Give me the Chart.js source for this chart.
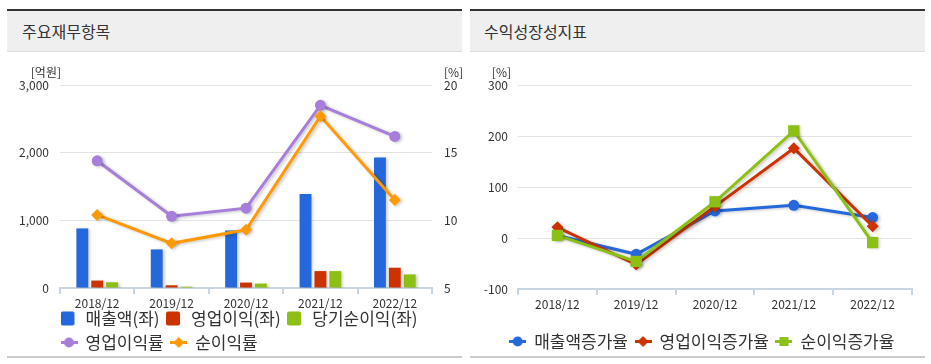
<!DOCTYPE html>
<html>
<head>
<meta charset="utf-8">
<script src="https://cdn.jsdelivr.net/npm/chart.js@4.4.1/dist/chart.umd.min.js"></script>
<style>
body { margin: 0; background: #fff; font-family: 'Malgun Gothic', 'Noto Sans CJK KR', sans-serif; }
.panel { position: absolute; top: 9px; width: 455px; height: 345px; border-top: 2px solid #333; border-bottom: 2px solid #ccc; }
.head { height: 40px; line-height: 40px; background: #efefef; border-bottom: 1px solid #ddd; font-size: 16px; color: #333; padding-left: 15px; }
.box { position: relative; height: 304px; }
</style>
</head>
<body>
<div class="panel" style="left:7px">
  <div class="head">주요재무항목</div>
  <div class="box"><canvas id="finChart"></canvas></div>
</div>
<div class="panel" style="left:470px">
  <div class="head" style="padding-left:14px">수익성장성지표</div>
  <div class="box"><canvas id="growthChart"></canvas></div>
</div>
<script>
// data
let years = ["2018/12", "2019/12", "2020/12", "2021/12", "2022/12"];
let sales = [880, 570, 850, 1390, 1930];
let opProfit = [110, 40, 80, 250, 300];
let netProfit = [85, 20, 65, 250, 200];
let opMargin = [14.4, 10.3, 10.9, 18.5, 16.2];
let netMargin = [10.4, 8.3, 9.3, 17.7, 11.5];
let salesGrowth = [5, -32, 53, 64, 40];
let opGrowth = [21, -52, 62, 176, 23];
let netGrowth = [5, -46, 71, 210, -9];

let blue = "#2468db", red = "#cc3300", green = "#8cc014", purple = "#a77fdb", orange = "#ff9a05";
let axisColor = "#c8d5e3", gridColor = "#e3e3e3", textColor = "#333";

Chart.defaults.font.family = "'Malgun Gothic', 'Noto Sans CJK KR', sans-serif";
Chart.defaults.font.size = 12;
Chart.defaults.color = textColor;

// small legend symbols
function symbol(kind, color) {
    let c = document.createElement("canvas");
    c.width = 17; c.height = 15;
    let g = c.getContext("2d");
    g.fillStyle = color; g.strokeStyle = color;
    if (kind == "box") {
        g.beginPath();
        g.roundRect(0, 0.5, 14, 14, 2);
        g.fill();
        return c;
    }
    g.lineWidth = 3;
    g.beginPath(); g.moveTo(0, 7.5); g.lineTo(17, 7.5); g.stroke();
    g.beginPath();
    if (kind == "circle") g.arc(8.5, 7.5, 5, 0, Math.PI * 2);
    if (kind == "diamond") { g.moveTo(8.5, 2); g.lineTo(14, 7.5); g.lineTo(8.5, 13); g.lineTo(3, 7.5); g.closePath(); }
    if (kind == "square") g.rect(4, 3, 9, 9);
    g.fill();
    return c;
}

function legendItems(symbols) {
    return function (chart) {
        return chart.data.datasets.map((ds, i) => ({
            text: ds.label,
            pointStyle: symbols[i],
            fillStyle: ds.backgroundColor,
            strokeStyle: ds.borderColor,
            lineWidth: 0,
            fontColor: textColor,
            hidden: !chart.isDatasetVisible(i),
            datasetIndex: i
        }));
    };
}

function hideBottomGrid(ctx) {
    return ctx.index === 0 ? "rgba(0,0,0,0)" : gridColor;
}

let shadow = {
    id: "shadow",
    beforeDatasetsDraw(chart) {
        let c = chart.ctx;
        c.save();
        c.shadowColor = "rgba(0,0,0,0.22)";
        c.shadowBlur = 3;
        c.shadowOffsetX = 2;
        c.shadowOffsetY = 1;
    },
    afterDatasetsDraw(chart) { chart.ctx.restore(); }
};

let units = {
    id: "units",
    afterDraw(chart, args, opts) {
        let c = chart.ctx, a = chart.chartArea;
        c.save();
        c.font = "12px " + Chart.defaults.font.family;
        c.fillStyle = textColor;
        c.textBaseline = "middle";
        opts.items.forEach(u => {
            c.textAlign = u.align;
            c.fillText(u.text, u.side == "left" ? a.left + u.dx : a.right + u.dx, a.top - 13);
        });
        c.restore();
    }
};

// nudge the legend box; keep its bottom at the canvas edge so nothing is clipped
let legendShift = {
    id: "legendShift",
    afterLayout(chart, args, opts) {
        let lg = chart.legend;
        lg.left += opts.x; lg.right += opts.x;
        lg.top += opts.y; lg.bottom = chart.height;
    }
};

let xAxis = (h) => ({
    offset: true,
    grid: { offset: true, drawOnChartArea: false, color: axisColor, lineWidth: 2, tickLength: 6 },
    border: { color: axisColor, width: 2 },
    ticks: { padding: 2, color: textColor },
    afterFit: s => { s.height = h; }
});

let legendLabels = (symbols) => ({
    usePointStyle: true, pointStyleWidth: 16, padding: 7,
    font: { size: 17 }, color: textColor,
    generateLabels: legendItems(symbols)
});

let finChart = new Chart(document.getElementById("finChart").getContext("2d"), {
    type: "bar",
    data: {
        labels: years,
        datasets: [
            { label: "매출액(좌)", data: sales, backgroundColor: blue, order: 2, yAxisID: "y" },
            { label: "영업이익(좌)", data: opProfit, backgroundColor: red, order: 2, yAxisID: "y" },
            { label: "당기순이익(좌)", data: netProfit, backgroundColor: green, order: 2, yAxisID: "y" },
            { type: "line", label: "영업이익률", data: opMargin, borderColor: purple, backgroundColor: purple,
              borderWidth: 3, pointStyle: "circle", pointRadius: 5.5, pointBorderWidth: 0, order: 1, yAxisID: "y1" },
            { type: "line", label: "순이익률", data: netMargin, borderColor: orange, backgroundColor: orange,
              borderWidth: 3, pointStyle: "rectRot", pointRadius: 6, pointBorderWidth: 0, order: 0, yAxisID: "y1" }
        ]
    },
    options: {
        responsive: true,
        maintainAspectRatio: false,
        animation: false,
        categoryPercentage: 0.6,
        barPercentage: 0.8,
        layout: { padding: { top: 33, left: 0, right: 0, bottom: 0 } },
        scales: {
            x: xAxis(24),
            y: {
                position: "left", min: 0, max: 3000,
                ticks: { stepSize: 1000, padding: 11 },
                grid: { color: hideBottomGrid, drawTicks: false },
                border: { display: false },
                afterFit: s => { s.width = 53; }
            },
            y1: {
                position: "right", min: 5, max: 20,
                ticks: { stepSize: 5, padding: 12 },
                grid: { drawOnChartArea: false, drawTicks: false },
                border: { display: false },
                afterFit: s => { s.width = 30; }
            }
        },
        plugins: {
            legend: {
                position: "bottom",
                align: "start",
                fullSize: false,
                maxHeight: 44,
                labels: legendLabels([symbol("box", blue), symbol("box", red), symbol("box", green),
                    symbol("circle", purple), symbol("diamond", orange)])
            },
            tooltip: { enabled: false },
            units: { items: [
                { text: "[억원]", side: "left", dx: 1, align: "right" },
                { text: "[%]", side: "right", dx: 12, align: "left" }
            ] },
            legendShift: { x: -6, y: -9 }
        }
    },
    plugins: [shadow, units, legendShift]
});

let growthChart = new Chart(document.getElementById("growthChart").getContext("2d"), {
    type: "line",
    data: {
        labels: years,
        datasets: [
            { label: "매출액증가율", data: salesGrowth, borderColor: blue, backgroundColor: blue,
              borderWidth: 3, pointStyle: "circle", pointRadius: 5.5, pointBorderWidth: 0, order: 3 },
            { label: "영업이익증가율", data: opGrowth, borderColor: red, backgroundColor: red,
              borderWidth: 3, pointStyle: "rectRot", pointRadius: 6, pointBorderWidth: 0, order: 2 },
            { label: "순이익증가율", data: netGrowth, borderColor: green, backgroundColor: green,
              borderWidth: 3, pointStyle: "rect", pointRadius: 8, pointBorderWidth: 0, order: 1 }
        ]
    },
    options: {
        responsive: true,
        maintainAspectRatio: false,
        animation: false,
        layout: { padding: { top: 33, left: 0, right: 13, bottom: 0 } },
        scales: {
            x: xAxis(33),
            y: {
                min: -100, max: 300,
                ticks: { stepSize: 100, padding: 10 },
                grid: { color: hideBottomGrid, drawTicks: false },
                border: { display: false },
                afterFit: s => { s.width = 48; }
            }
        },
        plugins: {
            legend: {
                position: "bottom",
                labels: legendLabels([symbol("circle", blue), symbol("diamond", red), symbol("square", green)])
            },
            tooltip: { enabled: false },
            units: { items: [{ text: "[%]", side: "left", dx: -7, align: "right" }] },
            legendShift: { x: 11, y: 4 }
        }
    },
    plugins: [shadow, units, legendShift]
});
</script>
</body>
</html>
